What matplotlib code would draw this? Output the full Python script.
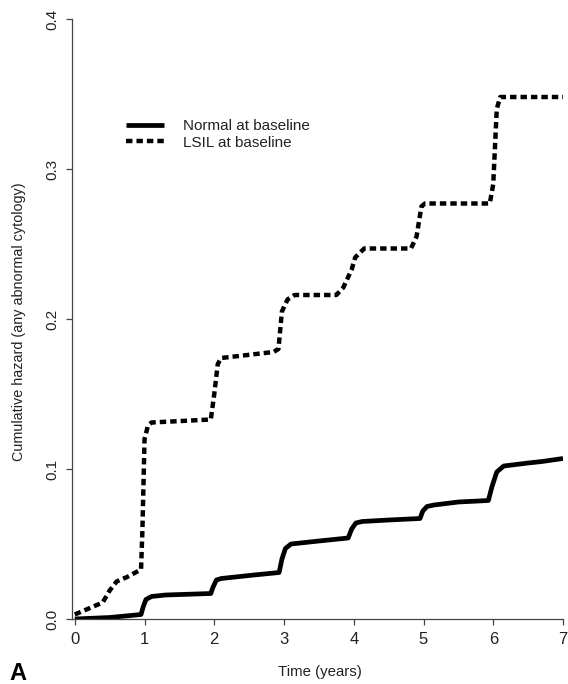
import matplotlib
matplotlib.use("Agg")
import matplotlib.pyplot as plt

plt.rcParams['font.family'] = ['Liberation Sans', 'DejaVu Sans']

# --- data ---
lsil_t = [0.0, 0.05, 0.2, 0.4, 0.45, 0.5, 0.6, 0.75, 0.95, 0.97, 1.0, 1.05, 1.1,
          1.95, 2.0, 2.05, 2.1, 2.85, 2.92, 2.97, 3.05, 3.15, 3.75, 3.85, 3.97,
          4.02, 4.15, 4.82, 4.9, 4.97, 5.02, 5.95, 6.0, 6.05, 6.1, 7.0]
lsil_h = [0.003, 0.004, 0.007, 0.011, 0.015, 0.019, 0.025, 0.028, 0.033, 0.06,
          0.12, 0.129, 0.131, 0.133, 0.15, 0.17, 0.174, 0.178, 0.18, 0.205,
          0.213, 0.216, 0.216, 0.221, 0.233, 0.241, 0.247, 0.247, 0.255, 0.275,
          0.277, 0.277, 0.29, 0.34, 0.348, 0.348]

normal_t = [0.0, 0.5, 0.95, 0.98, 1.02, 1.1, 1.3, 1.95, 1.98, 2.03, 2.1, 2.5,
            2.93, 2.97, 3.02, 3.1, 3.5, 3.92, 3.97, 4.03, 4.12, 4.5, 4.95, 4.99,
            5.05, 5.15, 5.5, 5.93, 5.98, 6.05, 6.15, 6.5, 6.7, 7.0]
normal_h = [0.0, 0.001, 0.003, 0.008, 0.013, 0.015, 0.016, 0.017, 0.021, 0.026,
            0.027, 0.029, 0.031, 0.040, 0.047, 0.050, 0.052, 0.054, 0.060, 0.064,
            0.065, 0.066, 0.067, 0.072, 0.075, 0.076, 0.078, 0.079, 0.088, 0.098,
            0.102, 0.104, 0.105, 0.107]

series_labels = ["Normal at baseline", "LSIL at baseline"]
x_ticks = [0, 1, 2, 3, 4, 5, 6, 7]
y_ticks = [0.0, 0.1, 0.2, 0.3, 0.4]
y_ticklabels = ["0.0", "0.1", "0.2", "0.3", "0.4"]

W, H = 568, 684
fig = plt.figure(figsize=(W / 100, H / 100), dpi=100)
ax = fig.add_axes([72 / W, 1 - 619 / H, (563 - 72) / W, (619 - 19) / H])

ax.plot(normal_t, normal_h, color='black', lw=3.4, solid_capstyle='butt',
        solid_joinstyle='round', label=series_labels[0])
ax.plot(lsil_t, lsil_h, color='black', lw=3.2, linestyle=(0, (1.45, 0.9)),
        dash_capstyle='butt', label=series_labels[1])

ax.set_xlim(-0.04, 7.0)
ax.set_ylim(0.0, 0.4)
ax.set_xticks(x_ticks)
ax.set_yticks(y_ticks)
ax.set_yticklabels(y_ticklabels, rotation=90, va='center')
for s in ['top', 'right']:
    ax.spines[s].set_visible(False)
for s in ['left', 'bottom']:
    ax.spines[s].set_color('#444444')
    ax.spines[s].set_linewidth(0.9)
ax.tick_params(axis='both', direction='out', length=4, width=0.9, color='#444444',
               labelcolor='#222222')
ax.tick_params(axis='x', labelsize=12, pad=5)
ax.tick_params(axis='y', labelsize=11, pad=5)

leg = ax.legend(loc='center left', bbox_to_anchor=(126 / W, 1 - 134.5 / H),
                bbox_transform=fig.transFigure, frameon=False, fontsize=11,
                handlelength=2.5, handletextpad=1.2, labelspacing=0.15,
                borderpad=0, borderaxespad=0)
for t in leg.get_texts():
    t.set_color('#222222')

fig.text(320 / W, 1 - 672 / H, "Time (years)", ha='center', va='center',
         fontsize=10.8, color='#222222')
fig.text(19 / W, 1 - 322 / H, "Cumulative hazard (any abnormal cytology)",
         ha='center', va='center', rotation=90, fontsize=10.4, color='#222222')
fig.text(18 / W, 1 - 674 / H, "A", ha='center', va='center', fontsize=17,
         fontweight='bold', color='black')

fig.savefig("out.png", dpi=100)
